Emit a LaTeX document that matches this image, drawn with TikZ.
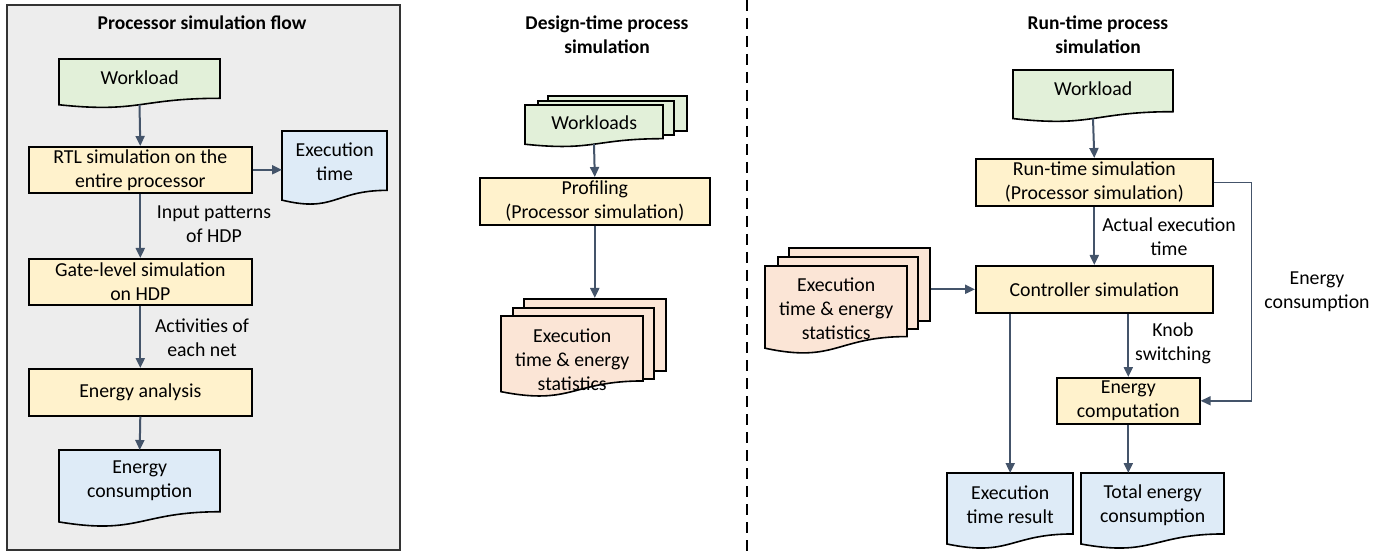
\documentclass[tikz,border=0pt]{standalone}
\usepackage{fontspec}
\setmainfont{Carlito}
\usetikzlibrary{arrows.meta}

\definecolor{docgreen}{HTML}{E2F0D9}
\definecolor{procyellow}{HTML}{FFF2CC}
\definecolor{docblue}{HTML}{DEEBF7}
\definecolor{docpink}{HTML}{FBE5D6}
\definecolor{panelgray}{HTML}{EDEDED}
\definecolor{flowline}{HTML}{44546A}

\tikzset{
  txt/.style={font=\fontsize{19.8}{24}\selectfont, align=center, inner sep=0pt},
  heading/.style={txt, font=\fontsize{19.5}{24}\selectfont\bfseries},
  proc/.style={txt, draw=black, line width=1.6pt, fill=procyellow, anchor=north west},
  page/.style={draw=black, line width=1.6pt},
  backpage/.style={page, inner sep=0pt, anchor=north west},
  flow/.style={draw=flowline, line width=2pt, -{Triangle[length=10pt,width=9pt]}},
  thinflow/.style={flow, line width=1.5pt},
  panel/.style={draw=black!80, line width=1.8pt, fill=panelgray, inner sep=0pt, anchor=north west},
  divider/.style={draw=black, line width=1.8pt, dash pattern=on 11pt off 7pt},
}

% process box: name, x1, y1, x2, y2, text
\newcommand\procbox[6]{%
  \node[proc, minimum width=#4-#2, minimum height=#5-#3] (#1) at (#2,#3) {#6};
}

% document shape with wavy bottom: name, x1, y1, x2, height, fill, text, text centre y
\newcommand\docnode[8]{%
  \pgfmathsetmacro\dxm{(#2+#4)/2}
  \pgfmathsetmacro\dyr{#3+0.802*#5}
  \pgfmathsetmacro\dyl{#3+0.934*#5}
  \pgfmathsetmacro\dyc{#3+1.1075*#5}
  \pgfmathsetmacro\dyb{#3+0.933*#5}
  \draw[page, fill=#6] (#2,#3) -- (#4,#3) -- (#4,\dyr)
    .. controls (\dxm,\dyr) and (\dxm,\dyc) .. (#2,\dyl) -- cycle;
  \node[txt, anchor=north west, minimum width=#4-#2, minimum height=2*(#8-#3)] (#1) at (#2,#3) {#7};
  \coordinate (#1-bot) at (\dxm,\dyb);
}

\begin{document}
\begin{tikzpicture}[x=1pt, y=-1pt]
\useasboundingbox (0,0) rectangle (1400,553);

% ---------- left panel: processor simulation flow ----------
\node[panel, minimum width=393, minimum height=545] (panelL) at (6,4) {};
\node[heading] (titleL) at (202,23) {Processor simulation flow};

\docnode{wlL}{59}{59}{220}{49}{docgreen}{Workload}{78}
\procbox{rtl}{28}{146}{251}{192}{RTL simulation on the\\entire processor}
\docnode{exect}{282}{131}{387}{74}{docblue}{Execution\\time}{162}
\procbox{gate}{28}{258}{251}{304}{Gate-level simulation\\on HDP}
\procbox{ea}{28}{368}{251}{415}{Energy analysis}
\docnode{ec}{59}{450}{220}{77}{docblue}{Energy\\consumption}{481}

\node[txt] (lblIn) at (214,224) {Input patterns\\of HDP};
\node[txt] (lblAct) at (202,338) {Activities of\\each net};

\draw[flow] (wlL-bot) -- (rtl.north);
\draw[flow] (rtl.east) -- (rtl.east -| exect.west);
\draw[flow] (rtl.south) -- (gate.north);
\draw[flow] (gate.south) -- (ea.north);
\draw[flow] (ea.south) -- (ec.north);

% ---------- divider ----------
\coordinate (divtop) at (747,0);
\coordinate (divbot) at (747,553);
\draw[divider] (divtop) -- (divbot);

% ---------- middle: design-time process ----------
\node[heading] (titleM) at (607,34.5) {Design-time process\\simulation};

\node[backpage, fill=docgreen, minimum width=139, minimum height=35] (wlsback) at (547,95) {};
\node[backpage, fill=docgreen, minimum width=136, minimum height=34] (wlsmid) at (537,100) {};
\docnode{wls}{525}{105}{663}{42}{docgreen}{Workloads}{123}

\procbox{prof}{479}{177}{709}{224}{Profiling\\(Processor simulation)}

\node[backpage, fill=docpink, minimum width=142, minimum height=72] (statsback) at (523,298) {};
\node[backpage, fill=docpink, minimum width=141, minimum height=71] (statsmid) at (512,307) {};
\docnode{stats}{501}{316}{643}{81}{docpink}{Execution\\time \& energy\\statistics}{360}

\draw[flow] (wls-bot) -- (prof.north);
\draw[flow] (prof.south) -- (statsback.north);

% ---------- right: run-time process ----------
\node[heading] (titleR) at (1098,34.5) {Run-time process\\simulation};

\docnode{wlR}{1013}{70}{1173}{52}{docgreen}{Workload}{89}
\procbox{rts}{975}{158}{1212}{205}{Run-time simulation\\(Processor simulation)}
\procbox{ctrl}{975}{265}{1212}{312}{Controller simulation}
\procbox{ecomp}{1056}{377}{1199}{423}{Energy\\computation}

\node[backpage, fill=docpink, minimum width=141, minimum height=73] (statsRback) at (788,247) {};
\node[backpage, fill=docpink, minimum width=140, minimum height=72] (statsRmid) at (777,256) {};
\docnode{statsR}{765}{266}{907}{88}{docpink}{Execution\\time \& energy\\statistics}{309}

\docnode{etr}{947}{473}{1073}{76}{docblue}{Execution\\time result}{505}
\docnode{tot}{1081}{473}{1224}{76}{docblue}{Total energy\\consumption}{505}

\node[txt] (lblAct2) at (1169,237) {Actual execution\\time};
\node[txt] (lblKnob) at (1173,343) {Knob\\switching};
\node[txt] (lblEc) at (1317,292) {Energy\\consumption};

\draw[flow] (wlR-bot) -- (rts.north);
\draw[flow] (rts.south) -- (ctrl.north);
\draw[flow] (statsRback.east |- ctrl.west) -- (ctrl.west);
\draw[flow] (ctrl.south -| etr.north) -- (etr.north);
\draw[flow] (ctrl.south -| ecomp.north) -- (ecomp.north);
\draw[flow] (ecomp.south) -- (ecomp.south |- tot.north);
\draw[thinflow] (rts.east) -- ++(38,0) |- (ecomp.east);

\end{tikzpicture}
\end{document}
